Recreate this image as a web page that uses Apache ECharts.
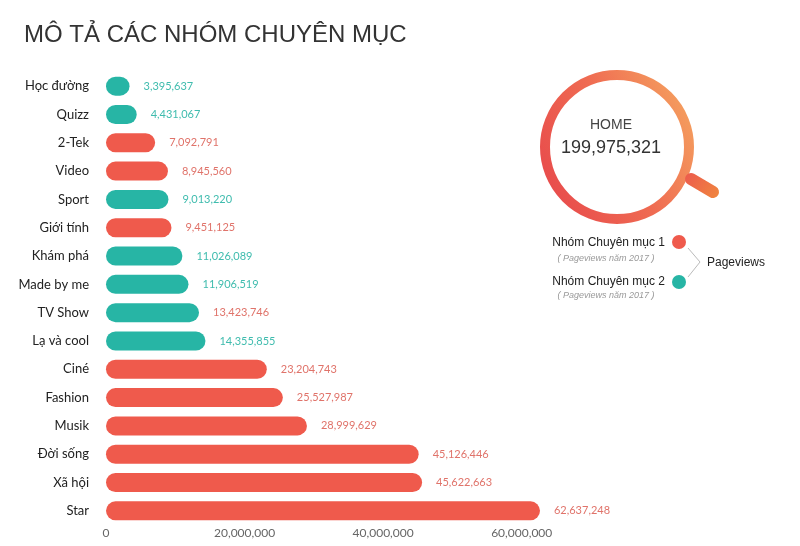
<!DOCTYPE html>
<html><head><meta charset="utf-8">
<script src="https://cdn.jsdelivr.net/npm/echarts@6/dist/echarts.min.js"></script>
<style>html,body{margin:0;padding:0;background:#fff}#c{width:800px;height:546px}</style>
</head><body><div id="c"></div>
<script>
const titleText = 'MÔ TẢ CÁC NHÓM CHUYÊN MỤC';
const categories = ['Học đường','Quizz','2-Tek','Video','Sport','Giới tính','Khám phá','Made by me','TV Show','Lạ và cool','Ciné','Fashion','Musik','Đời sống','Xã hội','Star'];
const values = [3395637,4431067,7092791,8945560,9013220,9451125,11026089,11906519,13423746,14355855,23204743,25527987,28999629,45126446,45622663,62637248];
const barGroups = [2,2,1,1,2,1,2,2,2,2,1,1,1,1,1,1];
const labelGroups = [2,2,1,1,2,1,2,2,1,2,1,1,1,1,1,1];
const xTicks = [0,20000000,40000000,60000000];
const homeLabel = 'HOME';
const homeValue = 199975321;
const legendNames = ['Nhóm Chuyên mục 1','Nhóm Chuyên mục 2'];
const legendSub = '( Pageviews năm 2017 )';
const legendGroupTitle = 'Pageviews';

const barColors = {1:'#ef5a4c', 2:'#27b5a5'};
const labelColors = {1:'#e0736a', 2:'#3fbcae'};
const fmt = v => String(v).replace(/\B(?=(\d{3})+(?!\d))/g, ',');

const chart = echarts.init(document.getElementById('c'), null, {renderer:'canvas'});
chart.setOption({
  backgroundColor:'#fff',
  animation:false,
  title:{text:titleText,left:19,top:18,textStyle:{fontFamily:'Liberation Sans',fontSize:24,fontWeight:'normal',color:'#333'}},
  grid:{left:106,right:209,top:72,bottom:21,containLabel:false,outerBoundsMode:'none'},
  xAxis:{type:'value',min:0,max:70000000,interval:20000000,
    axisLine:{show:false},axisTick:{show:false},splitLine:{show:false},
    axisLabel:{margin:2,fontFamily:'Lato',fontSize:12,color:'#666',
      formatter:v=>xTicks.indexOf(v)>=0?fmt(v):''}},
  yAxis:{type:'category',data:categories,inverse:true,
    axisLine:{show:false},axisTick:{show:false},
    axisLabel:{margin:17,fontFamily:'Lato',fontSize:13,color:'#222'}},
  series:[{type:'bar',barWidth:19,
    data:values.map((v,i)=>({value:v,
      itemStyle:{color:barColors[barGroups[i]],borderRadius:10},
      label:{color:labelColors[labelGroups[i]]}})),
    label:{show:true,position:'right',distance:14,fontFamily:'Lato',fontSize:11,formatter:p=>fmt(p.value)}
  }],
  graphic:[
    {type:'circle',shape:{cx:617,cy:147,r:72},style:{fill:'none',lineWidth:10,
      stroke:new echarts.graphic.LinearGradient(0,0.7,1,0.2,[{offset:0,color:'#e84c4c'},{offset:0.5,color:'#ef6b52'},{offset:1,color:'#f5a25f'}])}},
    {type:'line',shape:{x1:691,y1:179,x2:713,y2:192},style:{lineWidth:12,lineCap:'round',
      stroke:new echarts.graphic.LinearGradient(0,0,1,1,[{offset:0,color:'#ec5a4e'},{offset:1,color:'#f0873e'}])}},
    {type:'text',x:611,y:125,style:{text:homeLabel,align:'center',verticalAlign:'middle',fontFamily:'Liberation Sans',fontSize:14,fill:'#444'}},
    {type:'text',x:611,y:148,style:{text:fmt(homeValue),align:'center',verticalAlign:'middle',fontFamily:'Liberation Sans',fontSize:18,fill:'#333'}},
    {type:'text',x:665,y:243,style:{text:legendNames[0],align:'right',verticalAlign:'middle',fontFamily:'Liberation Sans',fontSize:12,fill:'#222'}},
    {type:'text',x:606,y:258,style:{text:legendSub,align:'center',verticalAlign:'middle',fontFamily:'Liberation Sans',fontStyle:'italic',fontSize:9,fill:'#999'}},
    {type:'text',x:665,y:282,style:{text:legendNames[1],align:'right',verticalAlign:'middle',fontFamily:'Liberation Sans',fontSize:12,fill:'#222'}},
    {type:'text',x:606,y:295,style:{text:legendSub,align:'center',verticalAlign:'middle',fontFamily:'Liberation Sans',fontStyle:'italic',fontSize:9,fill:'#999'}},
    {type:'circle',shape:{cx:679,cy:242,r:7},style:{fill:barColors[1]}},
    {type:'circle',shape:{cx:679,cy:282,r:7},style:{fill:barColors[2]}},
    {type:'polyline',shape:{points:[[688,248],[700,262],[688,277]]},style:{stroke:'#bbb',lineWidth:1,fill:'none'}},
    {type:'text',x:707,y:263,style:{text:legendGroupTitle,align:'left',verticalAlign:'middle',fontFamily:'Liberation Sans',fontSize:12,fill:'#222'}}
  ]
});
</script></body></html>
